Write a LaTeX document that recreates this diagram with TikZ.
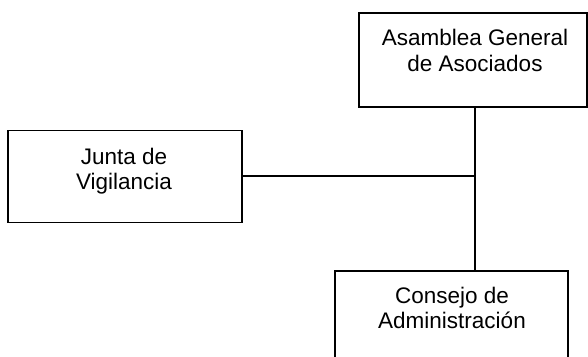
\documentclass[tikz,border=0pt]{standalone}
\usepackage{fontspec}
\setmainfont{Liberation Sans}
\begin{document}
\begin{tikzpicture}[x=1pt,y=1pt,
  orgbox/.style={draw=black, line width=1.3pt, rectangle, inner sep=0pt},
  txt/.style={font=\fontsize{22.5}{26}\selectfont, inner sep=0pt, anchor=base},
  conn/.style={draw=black, line width=1.2pt}]
\useasboundingbox (0,0) rectangle (588,356);
\clip (0,0) rectangle (588,356);
\node[orgbox, minimum width=228pt, minimum height=94pt] (asamblea) at (473,296) {};
\node[orgbox, minimum width=234pt, minimum height=92pt] (junta) at (125,179.5) {};
\node[orgbox, minimum width=233pt, minimum height=92pt] (consejo) at (451.5,39) {};
\node[txt] (asa1) at (475,310) {Asamblea General};
\node[txt] (asa2) at (475,284) {de Asociados};
\node[txt] (jun1) at (124,191) {Junta de};
\node[txt] (jun2) at (124,166) {Vigilancia};
\node[txt] (con1) at (452,53) {Consejo de};
\node[txt] (con2) at (452,28) {Administración};
\coordinate (jct) at (475,180);
\draw[conn] (asamblea.south -| jct) -- (consejo.north -| jct);
\draw[conn] (junta.east |- jct) -- (jct);
\end{tikzpicture}
\end{document}
